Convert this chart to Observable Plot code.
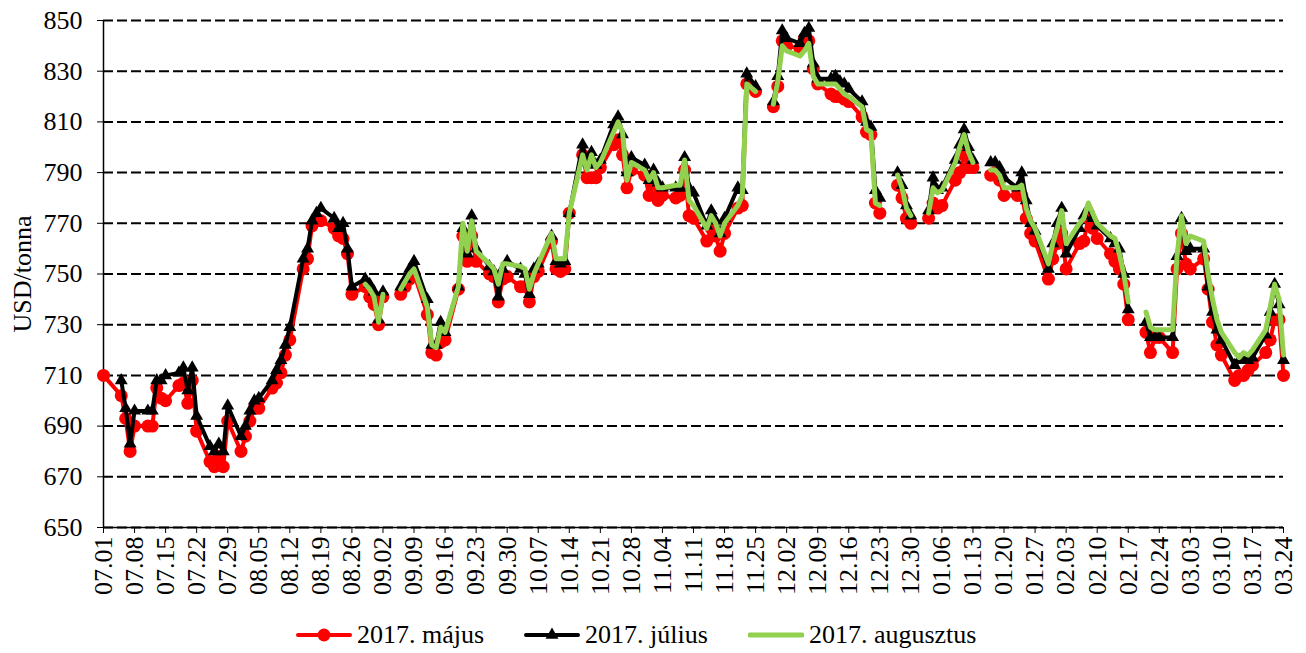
<!DOCTYPE html>
<html><head><meta charset="utf-8">
<script src="https://cdn.jsdelivr.net/npm/d3@7"></script>
<script src="https://cdn.jsdelivr.net/npm/@observablehq/plot@0.6"></script>
<style>
body{margin:0;background:#fff;font-family:"Liberation Serif","Times New Roman",serif;}
#chart{position:relative;width:1306px;height:653px;overflow:hidden;}
#legend{position:absolute;left:296px;top:620px;display:flex;align-items:center;font-size:26px;line-height:30px;color:#000;white-space:nowrap;}
#legend .item{display:flex;align-items:center;margin-right:40px;}
#legend .item:last-child{margin-right:0;}
#legend svg{margin-right:5px;}
</style></head><body><div id="chart"></div>
<script>
const dates = [
"2016-07-01","2016-07-05","2016-07-06","2016-07-07","2016-07-08","2016-07-11","2016-07-12","2016-07-13","2016-07-14","2016-07-15",
"2016-07-18","2016-07-19","2016-07-20","2016-07-21","2016-07-22","2016-07-25","2016-07-26","2016-07-27","2016-07-28","2016-07-29",
"2016-08-01","2016-08-02","2016-08-03","2016-08-04","2016-08-05","2016-08-08","2016-08-09","2016-08-10","2016-08-11","2016-08-12",
"2016-08-15","2016-08-16","2016-08-17","2016-08-18","2016-08-19","2016-08-22","2016-08-23","2016-08-24","2016-08-25","2016-08-26",
"2016-08-29","2016-08-30","2016-08-31","2016-09-01","2016-09-02","2016-09-05","2016-09-06","2016-09-07","2016-09-08","2016-09-09",
"2016-09-12","2016-09-13","2016-09-14","2016-09-15","2016-09-16","2016-09-19","2016-09-20","2016-09-21","2016-09-22","2016-09-23",
"2016-09-26","2016-09-27","2016-09-28","2016-09-29","2016-09-30","2016-10-03","2016-10-04","2016-10-05","2016-10-06","2016-10-07",
"2016-10-10","2016-10-11","2016-10-12","2016-10-13","2016-10-14","2016-10-17","2016-10-18","2016-10-19","2016-10-20","2016-10-21",
"2016-10-24","2016-10-25","2016-10-26","2016-10-27","2016-10-28","2016-10-31","2016-11-01","2016-11-02","2016-11-03","2016-11-04",
"2016-11-07","2016-11-08","2016-11-09","2016-11-10","2016-11-11","2016-11-14","2016-11-15","2016-11-16","2016-11-17","2016-11-18",
"2016-11-21","2016-11-22","2016-11-23","2016-11-25","2016-11-28","2016-11-29","2016-11-30","2016-12-01","2016-12-02","2016-12-05",
"2016-12-06","2016-12-07","2016-12-08","2016-12-09","2016-12-12","2016-12-13","2016-12-14","2016-12-15","2016-12-16","2016-12-19",
"2016-12-20","2016-12-21","2016-12-22","2016-12-23","2016-12-26","2016-12-27","2016-12-28","2016-12-29","2016-12-30","2017-01-02",
"2017-01-03","2017-01-04","2017-01-05","2017-01-06","2017-01-09","2017-01-10","2017-01-11","2017-01-12","2017-01-13","2017-01-16",
"2017-01-17","2017-01-18","2017-01-19","2017-01-20","2017-01-23","2017-01-24","2017-01-25","2017-01-26","2017-01-27","2017-01-30",
"2017-01-31","2017-02-01","2017-02-02","2017-02-03","2017-02-06","2017-02-07","2017-02-08","2017-02-09","2017-02-10","2017-02-13",
"2017-02-14","2017-02-15","2017-02-16","2017-02-17","2017-02-20","2017-02-21","2017-02-22","2017-02-23","2017-02-24","2017-02-27",
"2017-02-28","2017-03-01","2017-03-02","2017-03-03","2017-03-06","2017-03-07","2017-03-08","2017-03-09","2017-03-10","2017-03-13",
"2017-03-14","2017-03-15","2017-03-16","2017-03-17","2017-03-20","2017-03-21","2017-03-22","2017-03-23","2017-03-24"
];
const majus = [
710,702,693,680,690,690,690,705,701,700,
706,707,699,708,688,676,674,678,674,692,
680,686,692,697,697,705,707,711,718,724,
752,756,769,771,771,768,765,764,758,742,
745,741,738,730,741,null,742,745,748,750,
734,719,718,723,724,744,765,755,765,755,
750,749,739,748,749,745,745,739,749,751,
763,752,751,752,774,797,788,788,788,792,
801,803,797,784,791,789,781,786,779,781,
780,781,791,773,772,763,768,765,759,766,
776,777,825,822,null,816,824,842,840,839,
843,842,831,825,821,820,820,819,818,812,
806,805,778,774,null,785,780,772,770,null,
772,778,776,777,787,790,797,792,792,null,
789,790,787,781,781,781,772,766,763,748,
756,762,766,752,762,763,772,768,764,758,
755,752,746,732,null,727,719,725,725,719,
752,766,754,752,756,744,731,722,718,708,
710,710,712,714,719,724,732,732,710
];
const julius = [
null,708,697,683,696,696,696,708,708,710,
711,713,704,713,694,682,680,683,680,698,
686,690,696,700,701,708,712,716,722,729,
756,760,771,774,776,772,768,770,760,745,
748,746,743,732,743,null,745,748,752,755,
740,722,722,731,727,745,768,758,773,760,
753,751,741,752,755,752,750,742,752,754,
765,755,754,755,774,801,794,798,793,795,
809,812,805,790,796,793,787,791,786,784,
784,784,796,784,782,769,775,771,766,772,
784,783,829,824,null,818,828,846,843,841,
845,847,833,827,827,828,826,825,823,818,
810,808,783,780,null,790,785,777,773,null,
775,788,783,784,795,801,807,800,795,null,
794,794,792,788,784,790,779,770,767,752,
762,770,776,758,768,773,776,772,769,764,
762,760,750,736,null,731,725,725,725,725,
757,772,759,760,760,745,735,728,724,714,
716,716,716,717,726,735,746,738,716
];
const augusztus = [
null,null,null,null,null,null,null,null,null,null,
null,null,null,null,null,null,null,null,null,null,
null,null,null,null,null,null,null,null,null,null,
null,null,null,null,null,null,null,null,null,null,
746,744,741,731,742,null,744,747,750,752,
737,722,721,729,727,745,770,759,771,759,
754,752,746,754,754,753,752,744,750,754,
766,756,756,756,774,797,791,797,792,794,
806,810,806,787,794,791,787,790,784,784,
785,785,795,779,777,768,773,770,765,770,
777,781,825,822,null,817,826,840,838,836,
838,841,828,825,825,825,823,821,820,816,
807,806,778,777,null,789,784,776,773,null,
774,784,782,783,794,800,805,798,794,null,
791,791,789,784,784,785,776,771,768,754,
762,768,775,762,770,772,778,774,770,765,
764,758,750,739,null,735,729,728,728,728,
757,773,762,765,763,750,740,732,727,719,
717,719,718,720,728,737,746,740,718
];
const tickLabels = ["07.01","07.08","07.15","07.22","07.29","08.05","08.12","08.19","08.26","09.02","09.09","09.16","09.23","09.30",
"10.07","10.14","10.21","10.28","11.04","11.11","11.18","11.25","12.02","12.09","12.16","12.23","12.30","01.06","01.13","01.20",
"01.27","02.03","02.10","02.17","02.24","03.03","03.10","03.17","03.24"];
const yTicks = [650,670,690,710,730,750,770,790,810,830,850];
const seriesNames = ["2017. május","2017. július","2017. augusztus"];
const seriesColors = ["#ff0000","#000000","#92d050"];

const parse = d3.utcParse("%Y-%m-%d");
const tickDates = tickLabels.map(s => {
  const [mm, dd] = s.split(".");
  const yr = (+mm >= 7) ? 2016 : 2017;
  return parse(`${yr}-${mm}-${dd}`);
});
const rows = dates.map((d, i) => ({date: parse(d), m: majus[i], j: julius[i], a: augusztus[i]}));

const chart = Plot.plot({
  width: 1306, height: 612,
  marginLeft: 103, marginRight: 23, marginTop: 20, marginBottom: 85,
  style: {fontFamily: "'Liberation Serif','Times New Roman',serif", fontSize: "26px", background: "white", color: "black", overflow: "visible"},
  x: {type: "utc", domain: [tickDates[0], tickDates[tickDates.length - 1]]},
  y: {domain: [650, 850]},
  marks: [
    Plot.gridY(yTicks, {stroke: "black", strokeOpacity: 1, strokeWidth: 2, strokeDasharray: "10,4"}),
    Plot.axisY(yTicks, {tickSize: 6, tickPadding: 15, tickFormat: d => String(d), label: "USD/tonna", labelAnchor: "center", labelOffset: 91, labelArrow: "none", fontSize: 26}),
    Plot.axisX(tickDates, {tickFormat: d3.utcFormat("%m.%d"), tickRotate: -90, tickSize: 6, tickPadding: 3, label: null, fontSize: 26}),
    Plot.ruleX([tickDates[0]], {stroke: "black", strokeWidth: 1.5}),
    Plot.ruleY([650], {stroke: "black", strokeWidth: 1.5}),
    Plot.line(rows, {x: "date", y: "m", stroke: seriesColors[0], strokeWidth: 4}),
    Plot.dot(rows, {x: "date", y: "m", fill: seriesColors[0], r: 6.5}),
    Plot.line(rows, {x: "date", y: "j", stroke: seriesColors[1], strokeWidth: 4}),
    Plot.dot(rows, {x: "date", y: "j", symbol: "triangle", fill: seriesColors[1], r: 4.8}),
    Plot.line(rows, {x: "date", y: "a", stroke: seriesColors[2], strokeWidth: 5})
  ]
});
const holder = document.getElementById("chart");
holder.appendChild(chart);

// Legend
const legend = document.createElement("div");
legend.id = "legend";
seriesNames.forEach((name, i) => {
  const item = document.createElement("div");
  item.className = "item";
  let marker = "";
  if (i === 0) marker = `<circle cx="28" cy="10" r="6.5" fill="${seriesColors[i]}"/>`;
  if (i === 1) marker = `<path d="${d3.symbol(d3.symbolTriangle, Math.PI * 4.8 * 4.8)()}" transform="translate(28,10)" fill="${seriesColors[i]}"/>`;
  item.innerHTML = `<svg width="56" height="20"><line x1="2" x2="54" y1="10" y2="10" stroke="${seriesColors[i]}" stroke-width="${i === 2 ? 5 : 4}" stroke-linecap="round"/>${marker}</svg><span>${name}</span>`;
  legend.appendChild(item);
});
holder.appendChild(legend);
</script>
</body></html>
